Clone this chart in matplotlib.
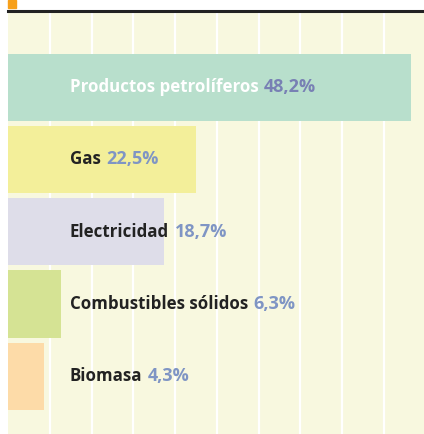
import matplotlib
matplotlib.use("Agg")
import matplotlib.pyplot as plt
from matplotlib.patches import Rectangle

# data
categories = ["Productos petrolíferos", "Gas", "Electricidad",
              "Combustibles sólidos", "Biomasa"]
values = [48.2, 22.5, 18.7, 6.3, 4.3]
pct_labels = ["48,2%", "22,5%", "18,7%", "6,3%", "4,3%"]
bar_colors = ["#b8dfcc", "#f3ef9a", "#dedde9", "#d5e394", "#fddba8"]
name_colors = ["white", "#222222", "#222222", "#222222", "#222222"]
pct_colors = ["#7880b4", "#7f95c4", "#7f95c4", "#7f95c4", "#7f95c4"]

W, H = 424, 434
fig = plt.figure(figsize=(W / 100, H / 100), dpi=100)
fig.patch.set_facecolor("white")

ax = fig.add_axes([8 / W, 0, 1 - 8 / W, (H - 10.5) / H])
ax.set_facecolor("#f8f8df")

ypos = list(range(len(categories)))
ax.barh(ypos, values, height=0.93, color=bar_colors, linewidth=0,
        edgecolor="none", zorder=3)

ax.set_xlim(0, 49.8)
ax.set_ylim(4.8, -1.06)

# white vertical grid every 5%
for gx in range(5, 50, 5):
    ax.axvline(gx, color="white", lw=1.6, zorder=1)

for i, (name, pct) in enumerate(zip(categories, pct_labels)):
    t = ax.text(7.4, i, name, ha="left", va="center",
                fontsize=12.2, fontweight="bold", family="Open Sans",
                color=name_colors[i], zorder=4)
    ax.annotate(pct, xy=(1, 0.5), xycoords=t, xytext=(4, 0),
                textcoords="offset points", ha="left", va="center",
                fontsize=13, fontweight="bold", family="Open Sans",
                color=pct_colors[i], zorder=4)

ax.set_xticks([])
ax.set_yticks([])
for s in ["left", "right", "bottom"]:
    ax.spines[s].set_visible(False)
ax.spines["top"].set_color("#222222")
ax.spines["top"].set_linewidth(2.2)

# small orange marker at the top left
fig.add_artist(Rectangle((8 / W, 1 - 7.5 / H), 7.5 / W, 7.5 / H,
                         transform=fig.transFigure, color="#f7a01a"))

fig.savefig("out.png", dpi=100, facecolor="white")
